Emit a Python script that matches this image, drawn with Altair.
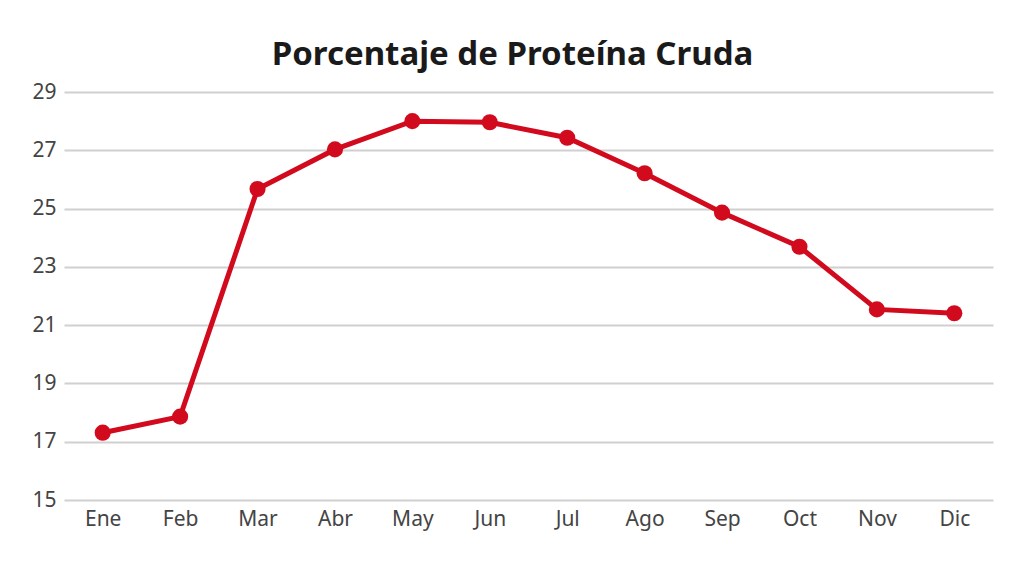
import altair as alt
import pandas as pd

months = ["Ene", "Feb", "Mar", "Abr", "May", "Jun", "Jul", "Ago", "Sep", "Oct", "Nov", "Dic"]
protein = [17.31, 17.86, 25.67, 27.03, 28.0, 27.96, 27.43, 26.21, 24.86, 23.69, 21.54, 21.41]
y_ticks = [15, 17, 19, 21, 23, 25, 27, 29]

df = pd.DataFrame({"mes": months, "pc": protein})

RED = "#D20A1E"

base = alt.Chart(df).encode(
    x=alt.X("mes:N", sort=months, title=None,
            scale=alt.Scale(paddingInner=0, paddingOuter=0),
            axis=alt.Axis(labelAngle=0, labelFontSize=21, labelColor="#444444",
                          labelFont="Noto Sans", labelPadding=8, ticks=False,
                          domain=False, grid=False)),
    y=alt.Y("pc:Q", title=None,
            scale=alt.Scale(domain=[15, 29], nice=False, zero=False),
            axis=alt.Axis(values=y_ticks, labelFontSize=21, labelColor="#444444",
                          labelFont="Noto Sans", labelPadding=8, ticks=False,
                          domain=False, gridColor="#D0D0D0", gridWidth=2)),
)

line = base.mark_line(color=RED, strokeWidth=5)
pts = base.mark_circle(color=RED, size=260, opacity=1)

chart = (line + pts).properties(
    width=929, height=408,
    autosize=alt.AutoSizeParams(type="none"),
    padding={"left": 56, "top": 84, "right": 23, "bottom": 60},
    title=alt.TitleParams("Porcentaje de Proteína Cruda", fontSize=33, font="Noto Sans",
                          fontWeight="bold", color="#1a1a1a", anchor="middle", dx=-16,
                          offset=26, dy=43, baseline="alphabetic"),
).configure_view(stroke=None)

chart.save("out.html", embed_options={"renderer": "svg", "actions": False})
